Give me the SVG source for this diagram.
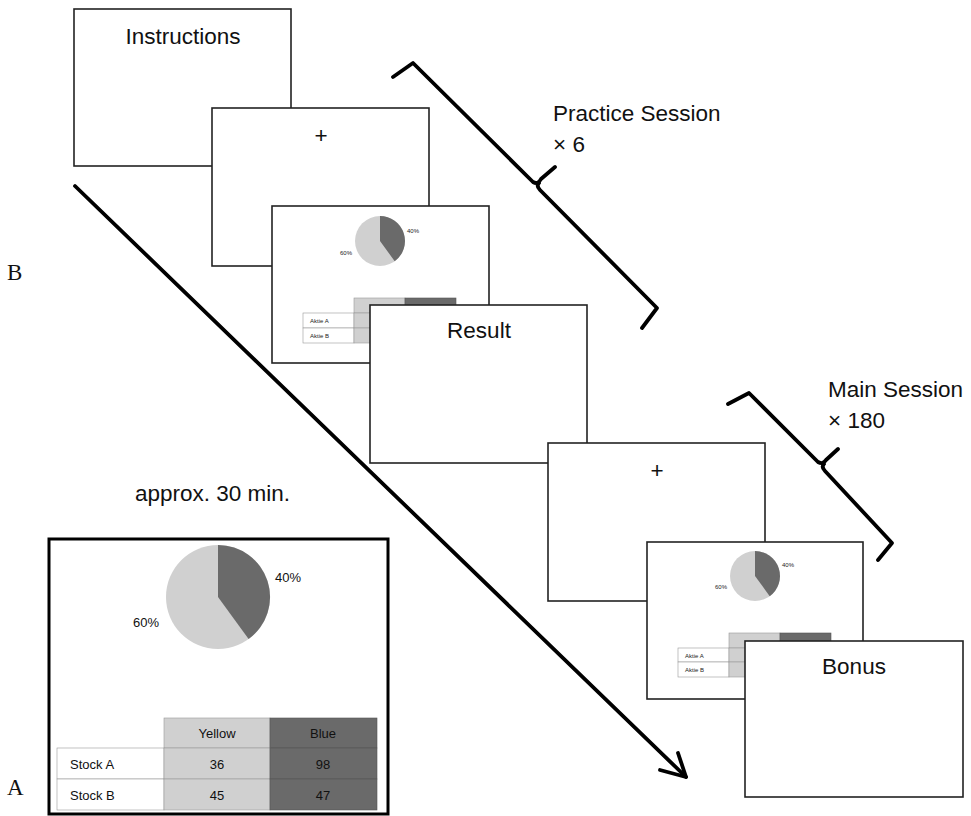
<svg xmlns="http://www.w3.org/2000/svg" width="971" height="816" viewBox="0 0 971 816">
<style>
.scr{fill:#fff;stroke:#222;stroke-width:1.6}
.t{font-family:"Liberation Sans",Arial,sans-serif;font-size:22.5px;fill:#111}
.tc{text-anchor:middle}
.s{font-family:"Liberation Sans",Arial,sans-serif;font-size:6px;fill:#222}
.m{font-family:"Liberation Sans",Arial,sans-serif;font-size:13px;fill:#111}
.lt{fill:#d0d0d0;stroke:#999;stroke-width:0.6}
.dk{fill:#6a6a6a;stroke:#555;stroke-width:0.6}
.wc{fill:#fff;stroke:#999;stroke-width:0.6}
.br{fill:none;stroke:#000;stroke-width:3.8;stroke-linejoin:round;stroke-linecap:round}
.lab{font-family:"Liberation Serif","Times New Roman",serif;font-size:23px;fill:#111}
</style>
<g id="instructions">
<rect class="scr" x="74" y="9" width="217" height="157"/>
<text class="t tc" x="183" y="44">Instructions</text>
</g>
<g id="fixation1">
<rect class="scr" x="212" y="108" width="217" height="158"/>
<text class="t tc" x="321" y="143">+</text>
</g>
<g id="choice1">
<rect class="scr" x="272" y="206" width="217" height="157"/>
<circle cx="380" cy="241" r="25" fill="#d0d0d0"/>
<path d="M380,241 L380,216 A25,25 0 0 1 394.7,261.2 Z" fill="#6a6a6a"/>
<text class="s" x="407" y="233">40%</text>
<text class="s" x="340" y="255">60%</text>
<rect class="lt" x="354" y="298" width="51" height="15"/>
<rect class="dk" x="405" y="298" width="51" height="15"/>
<rect class="wc" x="303" y="313" width="51" height="15"/>
<rect class="wc" x="303" y="328" width="51" height="15"/>
<rect class="lt" x="354" y="313" width="51" height="15"/>
<rect class="lt" x="354" y="328" width="51" height="15"/>
<rect class="dk" x="405" y="313" width="51" height="15"/>
<rect class="dk" x="405" y="328" width="51" height="15"/>
<text class="s" x="310" y="323">Aktie A</text>
<text class="s" x="310" y="338">Aktie B</text>
</g>
<g id="result">
<rect class="scr" x="370" y="305" width="217" height="158"/>
<text class="t tc" x="479" y="338">Result</text>
</g>
<g id="fixation2">
<rect class="scr" x="548" y="443" width="217" height="158"/>
<text class="t tc" x="657" y="478">+</text>
</g>
<g id="choice2">
<rect class="scr" x="647" y="542" width="216" height="157"/>
<circle cx="755" cy="576" r="25" fill="#d0d0d0"/>
<path d="M755,576 L755,551 A25,25 0 0 1 769.7,596.2 Z" fill="#6a6a6a"/>
<text class="s" x="782" y="567">40%</text>
<text class="s" x="715" y="589">60%</text>
<rect class="lt" x="729" y="633" width="51" height="15"/>
<rect class="dk" x="780" y="633" width="51" height="15"/>
<rect class="wc" x="678" y="648" width="51" height="14"/>
<rect class="wc" x="678" y="662" width="51" height="15"/>
<rect class="lt" x="729" y="648" width="51" height="14"/>
<rect class="lt" x="729" y="662" width="51" height="15"/>
<rect class="dk" x="780" y="648" width="51" height="14"/>
<rect class="dk" x="780" y="662" width="51" height="15"/>
<text class="s" x="685" y="658">Aktie A</text>
<text class="s" x="685" y="672">Aktie B</text>
</g>
<g id="bonus">
<rect class="scr" x="745" y="641" width="218" height="156"/>
<text class="t tc" x="854" y="674">Bonus</text>
</g>
<g id="panelA">
<rect x="49" y="539" width="339" height="275" fill="#fff" stroke="#000" stroke-width="3"/>
<circle cx="218" cy="597" r="52" fill="#d0d0d0"/>
<path d="M218,597 L218,545 A52,52 0 0 1 248.6,639.1 Z" fill="#6a6a6a"/>
<text class="m" x="275" y="582">40%</text>
<text class="m" x="133" y="627">60%</text>
<rect class="lt" x="164" y="718" width="106" height="30"/>
<rect class="dk" x="270" y="718" width="107" height="30"/>
<rect class="wc" x="57" y="748" width="107" height="31"/>
<rect class="wc" x="57" y="779" width="107" height="31"/>
<rect class="lt" x="164" y="748" width="106" height="31"/>
<rect class="lt" x="164" y="779" width="106" height="31"/>
<rect class="dk" x="270" y="748" width="107" height="31"/>
<rect class="dk" x="270" y="779" width="107" height="31"/>
<text class="m tc" x="217" y="738">Yellow</text>
<text class="m tc" x="323" y="738">Blue</text>
<text class="m" x="70" y="769">Stock A</text>
<text class="m" x="70" y="800">Stock B</text>
<text class="m tc" x="217" y="769">36</text>
<text class="m tc" x="323" y="769">98</text>
<text class="m tc" x="217" y="800">45</text>
<text class="m tc" x="323" y="800">47</text>
</g>
<g id="connectors">
<path class="br" d="M75,186 L686,777"/>
<path class="br" d="M660,770 L686,777 L678,753" stroke-width="4.5"/>
<path class="br" d="M393,77 L413,63 L533,182 Q538,185 541,179 L555,167 M539,183 Q536,186 540,190 L657,308 L642,328"/>
<path class="br" d="M728,404 L749,393 L818,462 Q823,465 826,460 L838,449 M824,464 Q821,467 825,471 L892,543 L878,560"/>
</g>
<g id="labels">
<text class="t" x="553" y="121">Practice Session</text>
<text class="t" x="553" y="152">× 6</text>
<text class="t" x="828" y="397">Main Session</text>
<text class="t" x="828" y="428">× 180</text>
<text class="t" x="135" y="501">approx. 30 min.</text>
<text class="lab" x="7" y="280">B</text>
<text class="lab" x="7" y="795">A</text>
</g>
</svg>
